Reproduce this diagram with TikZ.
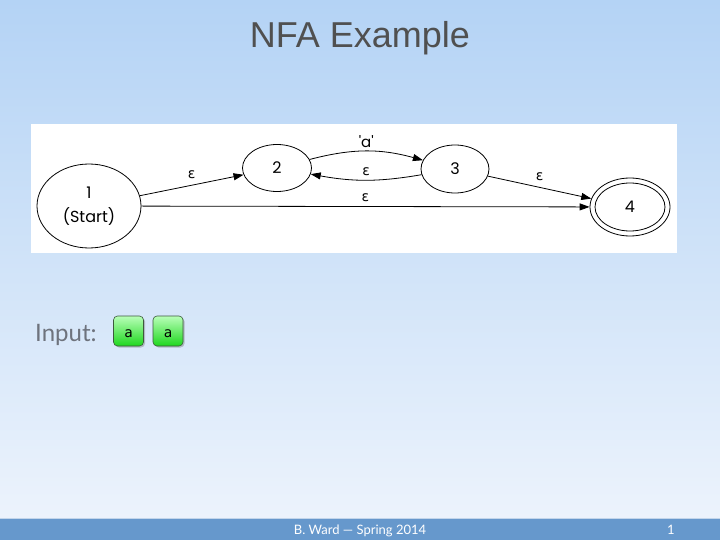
\documentclass[tikz,border=0pt]{standalone}
\usepackage{fontspec}
\setmainfont{Liberation Sans}
\newfontfamily\gfont{Poppins}
\newfontfamily\efont{DejaVu Sans}
\newfontfamily\ffont{Lato}
\newfontfamily\mfont{DejaVu Sans Mono}
\usetikzlibrary{shapes.geometric,arrows.meta,shadows}
\definecolor{bgtop}{RGB}{180,211,245}
\definecolor{bgbot}{RGB}{236,243,252}
\definecolor{barblue}{RGB}{102,152,204}
\definecolor{titlegray}{RGB}{80,80,80}
\definecolor{inputgray}{RGB}{110,115,125}
\definecolor{gtop}{RGB}{185,255,185}
\definecolor{gbot}{RGB}{30,215,30}
\definecolor{gedge}{RGB}{60,90,60}
\begin{document}
\begin{tikzpicture}[x=1pt,y=-1pt,
  state/.style={ellipse,draw,line width=0.8pt,inner sep=0pt,align=center,
    font=\gfont\fontsize{16}{24}\selectfont},
  edge/.style={-{Triangle[length=10pt,width=7pt]},line width=0.8pt},
  elab/.style={font=\efont\fontsize{14}{16}\selectfont,inner sep=2pt},
  alab/.style={font=\gfont\fontsize{15}{17}\selectfont,inner sep=2pt},
  key/.style={rounded corners=4pt,draw=gedge,line width=0.6pt,top color=gtop,bottom color=gbot,
    minimum width=30pt,minimum height=30pt,inner sep=0pt,text height=12pt,text depth=0pt,
    drop shadow={shadow xshift=1.5pt,shadow yshift=-1.5pt,opacity=0.45},
    font=\mfont\fontsize{14}{16}\selectfont}]
\useasboundingbox (0,0) rectangle (720,540);
\shade[top color=bgtop,bottom color=bgbot] (0,0) rectangle (720,518);
\fill[barblue] (0,518) rectangle (720,540);
\draw[white!60!barblue,line width=1pt] (0,518.5) -- (720,518.5);
\fill[white] (31,124) rectangle (677,253);
% title
\node[font=\fontsize{36}{40}\selectfont,text=titlegray,anchor=base,inner sep=0pt] (title) at (360,48) {NFA Example};
% states
\node[state,minimum width=104pt,minimum height=84pt] (n1) at (89,206) {1\\(Start)};
\node[state,minimum width=69pt,minimum height=47pt] (n2) at (277,168) {2};
\node[state,minimum width=68pt,minimum height=48pt] (n3) at (455,169) {3};
\node[state,minimum width=80pt,minimum height=58pt] (n4) at (630,207) {4};
\draw[line width=0.8pt] (n4.center) ellipse [x radius=35pt,y radius=24pt];
% edges
\draw[edge] (n1) -- node[elab,above=4pt]{ε} (n2);
\draw[edge] (n2) to[bend left=15] node[alab,above=1pt]{'a'} (n3);
\draw[edge] (n3) to[bend left=10] node[elab,above=2pt]{ε} (n2);
\draw[edge] (n3) -- node[elab,above=4pt]{ε} (n4);
\draw[edge] (n1) -- node[elab,above=2pt]{ε} (n4);
% input
\node[font=\ffont\fontsize{24}{28}\selectfont,text=inputgray,anchor=base west,inner sep=0pt] (inp) at (35,341) {Input:};
\node[key] (k1) at (128.5,331) {a};
\node[key] (k2) at (168,331) {a};
% footer
\node[font=\ffont\fontsize{13}{15}\selectfont,text=white,anchor=base,inner sep=0pt] (foot) at (360,534) {B. Ward — Spring 2014};
\node[font=\ffont\fontsize{13}{15}\selectfont,text=white,anchor=base,inner sep=0pt] (page) at (671,534) {1};
\end{tikzpicture}
\end{document}
